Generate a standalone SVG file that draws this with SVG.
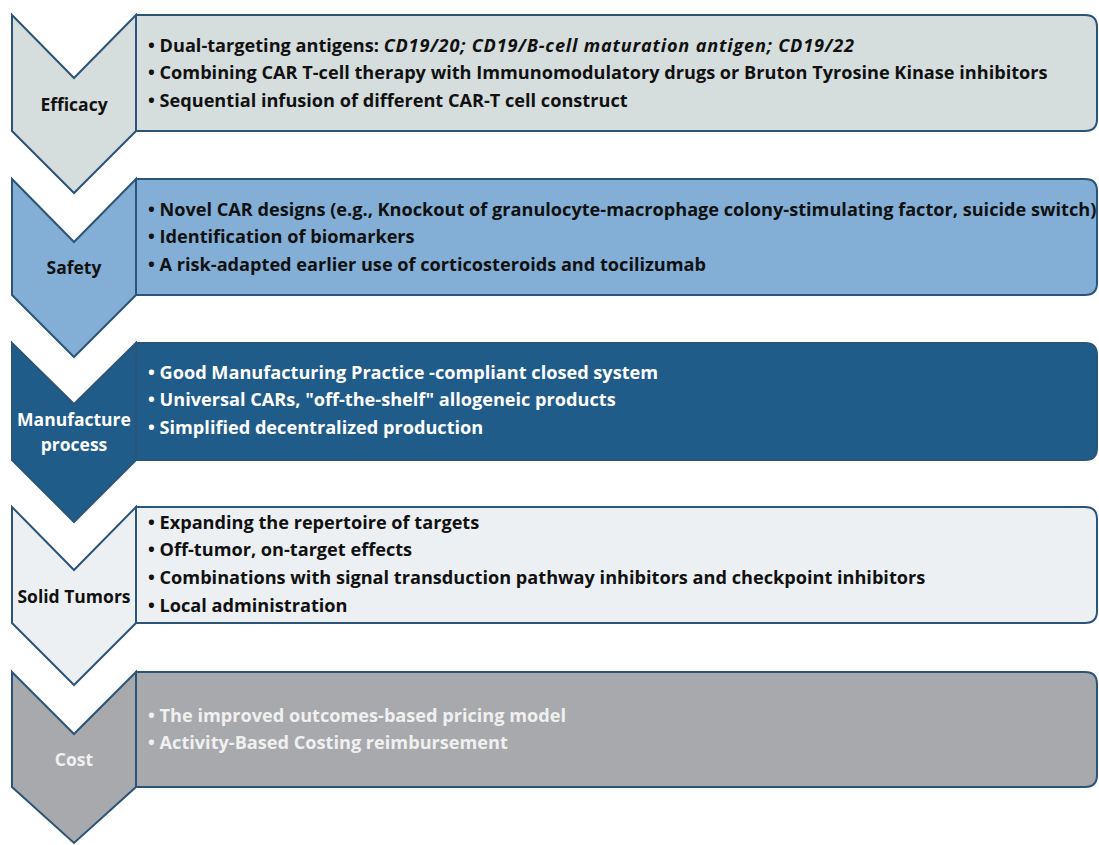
<svg xmlns="http://www.w3.org/2000/svg" width="1099" height="845" viewBox="0 0 1099 845">
<style>
.bx{stroke:#2b5578;stroke-width:2;}
.t{font-family:"Open Sans","Liberation Sans",sans-serif;font-weight:bold;font-size:18.15px;fill:#111;}
.lb{font-family:"Open Sans","Liberation Sans",sans-serif;font-weight:bold;font-size:17.5px;fill:#111;text-anchor:middle;}
.w{fill:#ffffff;}
.g{fill:#f0f0f0;}
</style>
<rect width="1099" height="845" fill="#ffffff"/>
<g id="connectors"></g>
<g id="efficacy">
<path class="bx" fill="#d6dddd" d="M136,15 H1085 Q1097,15 1097,27 V119 Q1097,131 1085,131 H136 Z"/>
<polygon class="bx" fill="#d6dddd" points="12,15 74,78 136,15 136,131 74,193 12,131"/>
<text class="lb" x="74" y="111">Efficacy</text>
<text class="t" x="148" y="52">• Dual-targeting antigens: <tspan font-style="italic" letter-spacing="0.8">CD19/20; CD19/B-cell maturation antigen; CD19/22</tspan></text>
<text class="t" x="148" y="79">• Combining CAR T-cell therapy with Immunomodulatory drugs or Bruton Tyrosine Kinase inhibitors</text>
<text class="t" x="148" y="107">• Sequential infusion of different CAR-T cell construct</text>
</g>
<g id="safety">
<path class="bx" fill="#83afd6" d="M136,179 H1085 Q1097,179 1097,191 V283 Q1097,295 1085,295 H136 Z"/>
<polygon class="bx" fill="#83afd6" points="12,179 74,242 136,179 136,295 74,357 12,295"/>
<text class="lb" x="74" y="274">Safety</text>
<text class="t" x="148" y="216">• Novel CAR designs (e.g., Knockout of granulocyte-macrophage colony-stimulating factor, suicide switch)</text>
<text class="t" x="148" y="243">• Identification of biomarkers</text>
<text class="t" x="148" y="271">• A risk-adapted earlier use of corticosteroids and tocilizumab</text>
</g>
<g id="manufacture">
<path class="bx" fill="#1f5c8a" d="M136,343 H1085 Q1097,343 1097,355 V448 Q1097,460 1085,460 H136 Z"/>
<polygon class="bx" fill="#1f5c8a" points="12,343 74,404 136,343 136,460 74,522 12,460"/>
<text class="lb w" x="74" y="426">Manufacture</text>
<text class="lb w" x="74" y="451">process</text>
<text class="t w" x="148" y="379">• Good Manufacturing Practice -compliant closed system</text>
<text class="t w" x="148" y="406">• Universal CARs, "off-the-shelf" allogeneic products</text>
<text class="t w" x="148" y="434">• Simplified decentralized production</text>
</g>
<g id="solid-tumors">
<path class="bx" fill="#edf0f3" d="M136,507 H1085 Q1097,507 1097,519 V611 Q1097,623 1085,623 H136 Z"/>
<polygon class="bx" fill="#edf0f3" points="12,507 74,570 136,507 136,623 74,685 12,623"/>
<text class="lb" x="74" y="603">Solid Tumors</text>
<text class="t" x="148" y="529">• Expanding the repertoire of targets</text>
<text class="t" x="148" y="556">• Off-tumor, on-target effects</text>
<text class="t" x="148" y="584">• Combinations with signal transduction pathway inhibitors and checkpoint inhibitors</text>
<text class="t" x="148" y="612">• Local administration</text>
</g>
<g id="cost">
<path class="bx" fill="#a8a9ac" d="M136,672 H1085 Q1097,672 1097,684 V775 Q1097,787 1085,787 H136 Z"/>
<polygon class="bx" fill="#a8a9ac" points="12,672 74,734 136,672 136,787 74,843 12,787"/>
<text class="lb g" x="74" y="766">Cost</text>
<text class="t g" x="148" y="722">• The improved outcomes-based pricing model</text>
<text class="t g" x="148" y="749">• Activity-Based Costing reimbursement</text>
</g>
</svg>
